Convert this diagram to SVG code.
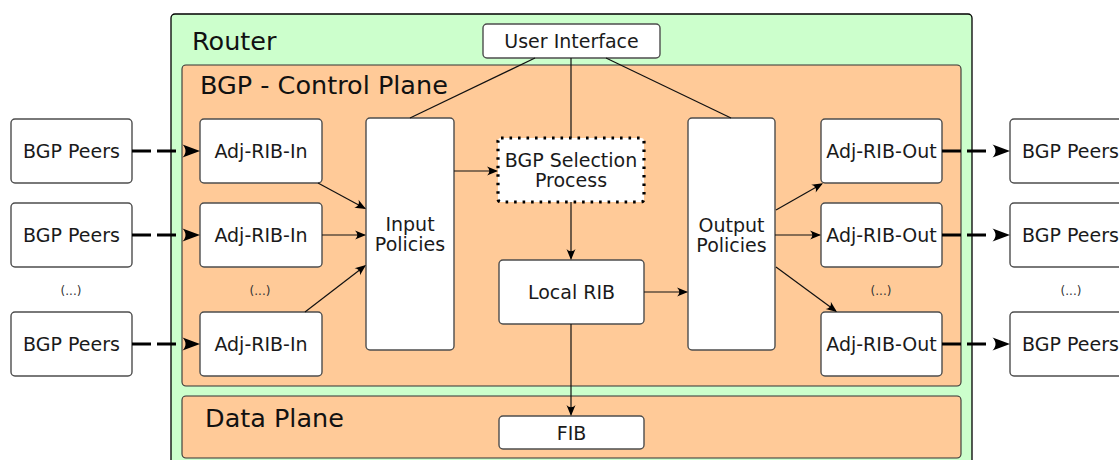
<svg xmlns="http://www.w3.org/2000/svg" width="1119" height="460" viewBox="0 0 1119 460">
  <style>
    .lbl { font-family: "DejaVu Sans", Verdana, sans-serif; font-size: 19px; fill: #1a1a1a; text-anchor: middle; }
    .title { font-family: "DejaVu Sans", Verdana, sans-serif; font-size: 25.5px; fill: #111; }
    .etc { font-family: "DejaVu Sans", Verdana, sans-serif; font-size: 12px; fill: #333; text-anchor: middle; }
    .box { fill: #ffffff; stroke: #4d4d4d; stroke-width: 1.4; }
    .thin { fill: none; stroke: #111; stroke-width: 1.2; }
    .feed { fill: none; stroke: #000; stroke-width: 3.2; stroke-dasharray: 19 6; }
    .plain { fill: none; stroke: #111; stroke-width: 1.2; }
  </style>
  <defs>
    <!-- small barbed head for the internal flows; tip sits 1.5px past the line end -->
    <marker id="tip" markerUnits="userSpaceOnUse" viewBox="-12 -6 14 12" markerWidth="14" markerHeight="12" refX="0" refY="0" orient="auto" overflow="visible">
      <path d="M1.5,0 L-9.5,-4.5 C-6.5,-1.5 -6.5,1.5 -9.5,4.5 Z" fill="#000"/>
    </marker>
    <!-- bold head for the peer sessions; drawn after the last dash gap -->
    <marker id="boldtip" markerUnits="userSpaceOnUse" viewBox="0 -8 26 16" markerWidth="26" markerHeight="16" refX="0" refY="0" orient="auto" overflow="visible">
      <path d="M24,0 L6.5,-6.5 C10.5,-2.5 10.5,2.5 6.5,6.5 Z" fill="#000"/>
    </marker>
  </defs>

  <!-- router chassis -->
  <g id="router">
    <rect x="171" y="14" width="801" height="460" rx="4" fill="#ccffcc" stroke="#000" stroke-width="1.3"/>
    <text class="title" x="192" y="50">Router</text>
  </g>

  <!-- control plane -->
  <g id="control-plane">
    <rect x="182" y="65" width="779" height="321" rx="4" fill="#ffca98" stroke="#333" stroke-width="1.1"/>
    <text class="title" x="200" y="94">BGP - Control Plane</text>
  </g>

  <!-- data plane -->
  <g id="data-plane">
    <rect x="182" y="396" width="779" height="62" rx="4" fill="#ffca98" stroke="#333" stroke-width="1.1"/>
    <text class="title" x="205" y="427">Data Plane</text>
  </g>

  <g id="user-interface">
    <rect class="box" x="483" y="24" width="177" height="34" rx="4"/>
    <text class="lbl" x="571.5" y="48">User Interface</text>
  </g>

  <!-- left peers -->
  <g id="peer-in-1"><rect class="box" x="11" y="119" width="121" height="64" rx="4"/><text class="lbl" x="71.5" y="158">BGP Peers</text></g>
  <g id="peer-in-2"><rect class="box" x="11" y="203" width="121" height="64" rx="4"/><text class="lbl" x="71.5" y="242">BGP Peers</text></g>
  <g id="peer-in-3"><rect class="box" x="11" y="312" width="121" height="64" rx="4"/><text class="lbl" x="71.5" y="351">BGP Peers</text></g>

  <!-- Adj-RIB-In tables -->
  <g id="adj-in-1"><rect class="box" x="200" y="119" width="122" height="64" rx="4"/><text class="lbl" x="261" y="158">Adj-RIB-In</text></g>
  <g id="adj-in-2"><rect class="box" x="200" y="203" width="122" height="64" rx="4"/><text class="lbl" x="261" y="242">Adj-RIB-In</text></g>
  <g id="adj-in-3"><rect class="box" x="200" y="312" width="122" height="64" rx="4"/><text class="lbl" x="261" y="351">Adj-RIB-In</text></g>

  <g id="input-policies">
    <rect class="box" x="366" y="118" width="88" height="232" rx="4"/>
    <text class="lbl" x="410" y="231">Input</text>
    <text class="lbl" x="410" y="251">Policies</text>
  </g>

  <g id="selection">
    <rect x="498" y="138" width="146" height="64" rx="3" fill="#fff" stroke="#000" stroke-width="3.2" stroke-dasharray="2.6 5.9"/>
    <text class="lbl" x="571" y="167">BGP Selection</text>
    <text class="lbl" x="571" y="187">Process</text>
  </g>

  <g id="local-rib">
    <rect class="box" x="499" y="260" width="145" height="64" rx="4"/>
    <text class="lbl" x="571.5" y="299">Local RIB</text>
  </g>

  <g id="fib">
    <rect class="box" x="499" y="416" width="145" height="33" rx="4"/>
    <text class="lbl" x="571.5" y="439.5">FIB</text>
  </g>

  <g id="output-policies">
    <rect class="box" x="688" y="118" width="87" height="232" rx="4"/>
    <text class="lbl" x="731.5" y="232">Output</text>
    <text class="lbl" x="731.5" y="252">Policies</text>
  </g>

  <!-- Adj-RIB-Out tables -->
  <g id="adj-out-1"><rect class="box" x="821" y="119" width="121" height="64" rx="4"/><text class="lbl" x="881.5" y="158">Adj-RIB-Out</text></g>
  <g id="adj-out-2"><rect class="box" x="821" y="203" width="121" height="64" rx="4"/><text class="lbl" x="881.5" y="242">Adj-RIB-Out</text></g>
  <g id="adj-out-3"><rect class="box" x="821" y="312" width="121" height="64" rx="4"/><text class="lbl" x="881.5" y="351">Adj-RIB-Out</text></g>

  <!-- right peers -->
  <g id="peer-out-1"><rect class="box" x="1010" y="119" width="121" height="64" rx="4"/><text class="lbl" x="1070.5" y="158">BGP Peers</text></g>
  <g id="peer-out-2"><rect class="box" x="1010" y="203" width="121" height="64" rx="4"/><text class="lbl" x="1070.5" y="242">BGP Peers</text></g>
  <g id="peer-out-3"><rect class="box" x="1010" y="312" width="121" height="64" rx="4"/><text class="lbl" x="1070.5" y="351">BGP Peers</text></g>

  <!-- ellipses for further peers -->
  <g id="more">
    <text class="etc" x="71" y="295">(...)</text>
    <text class="etc" x="260" y="295">(...)</text>
    <text class="etc" x="881" y="295">(...)</text>
    <text class="etc" x="1071" y="295">(...)</text>
  </g>

  <g id="connectors">
    <!-- peer sessions -->
    <path class="feed" d="M132,151 H176" marker-end="url(#boldtip)"/>
    <path class="feed" d="M132,235 H176" marker-end="url(#boldtip)"/>
    <path class="feed" d="M132,344 H176" marker-end="url(#boldtip)"/>
    <path class="feed" d="M942,151 H986" marker-end="url(#boldtip)"/>
    <path class="feed" d="M942,235 H986" marker-end="url(#boldtip)"/>
    <path class="feed" d="M942,344 H986" marker-end="url(#boldtip)"/>

    <!-- into input policies -->
    <path class="thin" d="M318,183 L364.7,208.3" marker-end="url(#tip)"/>
    <path class="thin" d="M322,235 H364.5" marker-end="url(#tip)"/>
    <path class="thin" d="M305,312 L364.8,266" marker-end="url(#tip)"/>

    <!-- user interface links -->
    <path class="plain" d="M535,58 L410,118"/>
    <path class="plain" d="M571,58 V138"/>
    <path class="plain" d="M606,58 L731,118"/>

    <!-- decision path -->
    <path class="thin" d="M454,171 H496.5" marker-end="url(#tip)"/>
    <path class="thin" d="M571,202 V258.5" marker-end="url(#tip)"/>
    <path class="thin" d="M644,292 H686.5" marker-end="url(#tip)"/>
    <path class="thin" d="M571,324 V414.5" marker-end="url(#tip)"/>

    <!-- out of output policies -->
    <path class="thin" d="M776,210 L821.7,184" marker-end="url(#tip)"/>
    <path class="thin" d="M775,235 H819.5" marker-end="url(#tip)"/>
    <path class="thin" d="M776,267 L835.8,311" marker-end="url(#tip)"/>
  </g>
</svg>
